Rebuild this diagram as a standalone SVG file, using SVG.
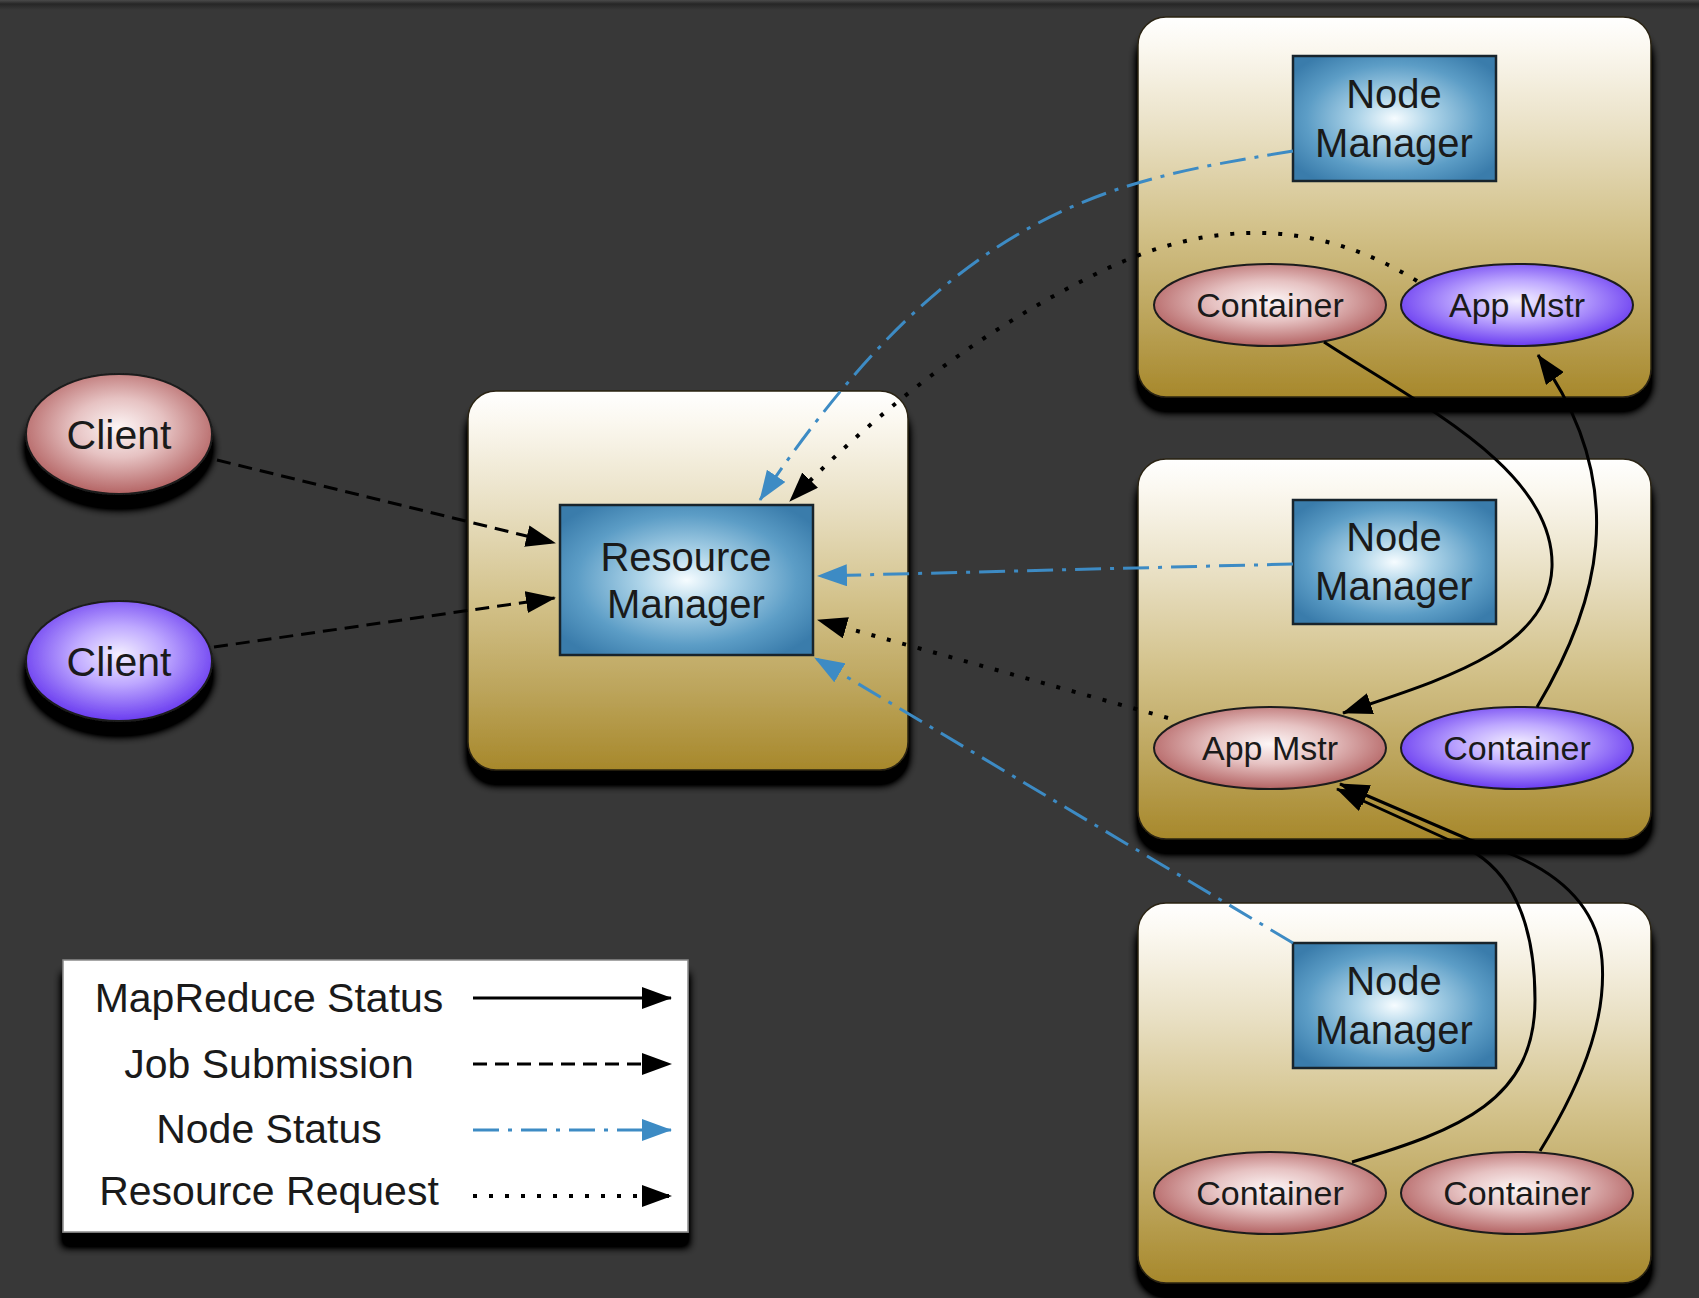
<svg xmlns="http://www.w3.org/2000/svg" width="1699" height="1298" viewBox="0 0 1699 1298">
<defs>
<style>
.t{font-family:"Liberation Sans",Arial,sans-serif;fill:#1a1a1a;text-anchor:middle}
.big{font-size:41px}
.nm{font-size:40px}
.el{font-size:34px}
.box{stroke:#1a1a1a;stroke-width:2.5}
.cont{fill:url(#gold);stroke:#2a2412;stroke-width:1.5}
.nmbox{fill:url(#blue);stroke:#18242c;stroke-width:2.5}
.pink{fill:url(#pinkG);stroke:#1c1c1c;stroke-width:2}
.purp{fill:url(#purpG);stroke:#1c1c1c;stroke-width:2}
.c{fill:none;stroke-width:3}
.mr{stroke:#000}
.job{stroke:#000;stroke-dasharray:14 8}
.ns{stroke:#3d8bc4;stroke-dasharray:26 9 4 9}
.rr{stroke:#000;stroke-width:4;stroke-dasharray:4 12}
</style>
<linearGradient id="gold" x1="0" y1="0" x2="0" y2="1">
<stop offset="0" stop-color="#ffffff"/>
<stop offset="0.08" stop-color="#fbf8f0"/>
<stop offset="0.3" stop-color="#e9e0c4"/>
<stop offset="0.55" stop-color="#d3c28b"/>
<stop offset="0.8" stop-color="#bba359"/>
<stop offset="1" stop-color="#a7882b"/>
</linearGradient>
<radialGradient id="blue" cx="0.5" cy="0.5" r="0.62">
<stop offset="0" stop-color="#f6fcff"/>
<stop offset="0.3" stop-color="#acd3e8"/>
<stop offset="0.7" stop-color="#5c9dc6"/>
<stop offset="1" stop-color="#3a7cab"/>
</radialGradient>
<radialGradient id="pinkG" cx="0.5" cy="0.45" r="0.55">
<stop offset="0" stop-color="#fdf6f6"/>
<stop offset="0.45" stop-color="#e6c2c2"/>
<stop offset="1" stop-color="#b46464"/>
</radialGradient>
<radialGradient id="purpG" cx="0.5" cy="0.45" r="0.55">
<stop offset="0" stop-color="#f4f0ff"/>
<stop offset="0.45" stop-color="#bea8ff"/>
<stop offset="1" stop-color="#6a3cf0"/>
</radialGradient>
<linearGradient id="topStrip" x1="0" y1="0" x2="0" y2="1">
<stop offset="0" stop-color="#4a4a4a"/>
<stop offset="0.4" stop-color="#262626"/>
<stop offset="1" stop-color="#383838"/>
</linearGradient>
<filter id="sh" x="-10%" y="-10%" width="120%" height="130%">
<feGaussianBlur in="SourceAlpha" stdDeviation="4"/>
<feOffset dx="0" dy="14" result="b"/>
<feComponentTransfer in="b" result="d"><feFuncA type="linear" slope="2"/></feComponentTransfer>
<feMerge><feMergeNode in="d"/><feMergeNode in="SourceGraphic"/></feMerge>
</filter>
<marker id="ab" markerWidth="30" markerHeight="22" refX="29" refY="11" orient="auto" markerUnits="userSpaceOnUse">
<path d="M0,0 L30,11 L0,22 z" fill="#000"/>
</marker>
<marker id="au" markerWidth="30" markerHeight="22" refX="29" refY="11" orient="auto" markerUnits="userSpaceOnUse">
<path d="M0,0 L30,11 L0,22 z" fill="#3d8bc4"/>
</marker>
</defs>

<rect x="0" y="0" width="1699" height="1298" fill="#383838"/>
<rect x="0" y="0" width="1699" height="10" fill="url(#topStrip)"/>

<g id="rm-host">
<rect class="cont" x="468" y="391" width="440" height="379" rx="28" filter="url(#sh)"/>
</g>
<g id="node1">
<rect class="cont" x="1138" y="17" width="513" height="380" rx="28" filter="url(#sh)"/>
</g>
<g id="node2">
<rect class="cont" x="1138" y="459" width="513" height="380" rx="28" filter="url(#sh)"/>
</g>
<g id="node3">
<rect class="cont" x="1138" y="903" width="513" height="380" rx="28" filter="url(#sh)"/>
</g>

<g id="client1">
<ellipse class="pink" cx="119" cy="434" rx="93" ry="60" filter="url(#sh)"/>
<text class="t big" x="119" y="449">Client</text>
</g>
<g id="client2">
<ellipse class="purp" cx="119" cy="661" rx="93" ry="60" filter="url(#sh)"/>
<text class="t big" x="119" y="676">Client</text>
</g>

<g id="resource-manager">
<rect class="nmbox" x="560" y="505" width="253" height="150"/>
<text class="t nm" x="686" y="571">Resource</text>
<text class="t nm" x="686" y="618">Manager</text>
</g>

<g id="nm1">
<rect class="nmbox" x="1293" y="56" width="203" height="125"/>
<text class="t nm" x="1394" y="108">Node</text>
<text class="t nm" x="1394" y="157">Manager</text>
</g>
<g id="nm2">
<rect class="nmbox" x="1293" y="500" width="203" height="124"/>
<text class="t nm" x="1394" y="551">Node</text>
<text class="t nm" x="1394" y="600">Manager</text>
</g>
<g id="nm3">
<rect class="nmbox" x="1293" y="943" width="203" height="125"/>
<text class="t nm" x="1394" y="995">Node</text>
<text class="t nm" x="1394" y="1044">Manager</text>
</g>

<g id="n1-container">
<ellipse class="pink" cx="1270" cy="305" rx="116" ry="41"/>
<text class="t el" x="1270" y="317">Container</text>
</g>
<g id="n1-appmstr">
<ellipse class="purp" cx="1517" cy="305" rx="116" ry="41"/>
<text class="t el" x="1517" y="317">App Mstr</text>
</g>
<g id="n2-appmstr">
<ellipse class="pink" cx="1270" cy="748" rx="116" ry="41"/>
<text class="t el" x="1270" y="760">App Mstr</text>
</g>
<g id="n2-container">
<ellipse class="purp" cx="1517" cy="748" rx="116" ry="41"/>
<text class="t el" x="1517" y="760">Container</text>
</g>
<g id="n3-container1">
<ellipse class="pink" cx="1270" cy="1193" rx="116" ry="41"/>
<text class="t el" x="1270" y="1205">Container</text>
</g>
<g id="n3-container2">
<ellipse class="pink" cx="1517" cy="1193" rx="116" ry="41"/>
<text class="t el" x="1517" y="1205">Container</text>
</g>

<g id="connectors">
<path class="c job" d="M217,460 L555,543" marker-end="url(#ab)"/>
<path class="c job" d="M214,647 L555,598" marker-end="url(#ab)"/>
<path class="c ns" d="M1293,151 C1120,180 960,200 760,500" marker-end="url(#au)"/>
<path class="c rr" d="M1417,281 Q1270,190 1102,271 T790,501" marker-end="url(#ab)"/>
<path class="c ns" d="M1293,564 L818,576" marker-end="url(#au)"/>
<path class="c rr" d="M1168,718 L818,620" marker-end="url(#ab)"/>
<path class="c ns" d="M1293,943 L815,658" marker-end="url(#au)"/>
<path class="c mr" d="M1324,342 C1420,405 1555,470 1552,567 C1549,650 1440,680 1343,713" marker-end="url(#ab)"/>
<path class="c mr" d="M1537,707 C1595,610 1635,490 1538,355" marker-end="url(#ab)"/>
<path class="c mr" d="M1352,1162 C1460,1130 1535,1100 1535,1000 C1535,905 1500,862 1460,845 L1337,789" marker-end="url(#ab)"/>
<path class="c mr" d="M1540,1151 C1590,1070 1606,1010 1602,960 C1597,900 1550,862 1470,840 L1340,784" marker-end="url(#ab)"/>
</g>

<g id="legend">
<rect x="63" y="960" width="625" height="272" fill="#ffffff" stroke="#8a8a8a" stroke-width="1.5" filter="url(#sh)"/>
<text class="t big" x="269" y="1012">MapReduce Status</text>
<text class="t big" x="269" y="1078">Job Submission</text>
<text class="t big" x="269" y="1143">Node Status</text>
<text class="t big" x="269" y="1205">Resource Request</text>
<path class="c mr" d="M473,998 L671,998" marker-end="url(#ab)"/>
<path class="c job" d="M473,1064 L671,1064" marker-end="url(#ab)"/>
<path class="c ns" d="M473,1130 L671,1130" marker-end="url(#au)"/>
<path class="c rr" d="M473,1196 L671,1196" marker-end="url(#ab)"/>
</g>
</svg>
